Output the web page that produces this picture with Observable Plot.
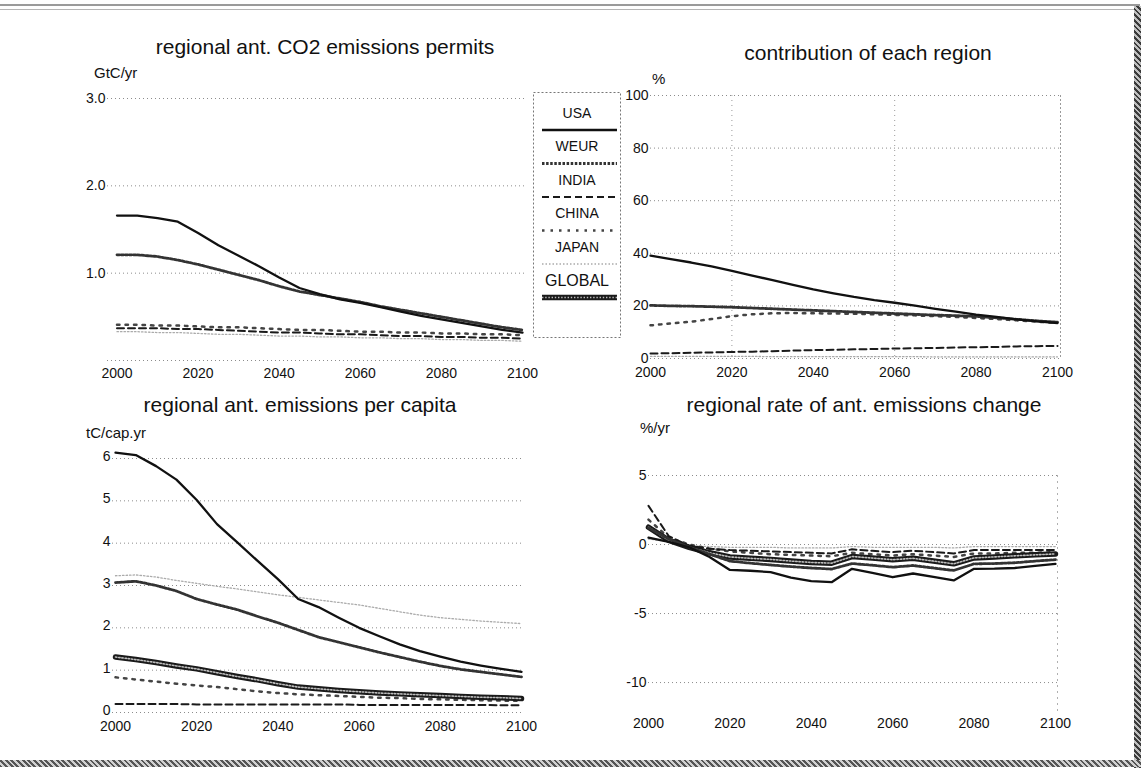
<!DOCTYPE html>
<html><head><meta charset="utf-8">
<script src="https://cdn.jsdelivr.net/npm/d3@7"></script>
<script src="https://cdn.jsdelivr.net/npm/@observablehq/plot@0.6"></script>
<style>
html,body{margin:0;padding:0;background:#fff;}
#page{position:relative;width:1144px;height:775px;overflow:hidden;background:#fff;font-family:"Liberation Sans",Arial,sans-serif;color:#111;}
.abs{position:absolute;}
.title{font-size:21px;white-space:nowrap;transform:translateX(-50%);line-height:1;}
.unit{font-size:15px;white-space:nowrap;line-height:1;}
</style></head><body><div id="page"></div>
<script>
// ---------- data ----------
const years = [2000,2005,2010,2015,2020,2025,2030,2035,2040,2045,2050,2055,2060,2065,2070,2075,2080,2085,2090,2095,2100];
const regions = ["USA","WEUR","INDIA","CHINA","JAPAN","GLOBAL"];

// regional ant. CO2 emissions permits (GtC/yr)
const permitsUSA   = [1.66,1.66,1.63,1.59,1.46,1.32,1.20,1.08,0.95,0.83,0.76,0.70,0.66,0.61,0.56,0.51,0.47,0.43,0.39,0.35,0.32];
const permitsWEUR  = [1.21,1.21,1.19,1.15,1.10,1.04,0.98,0.92,0.85,0.79,0.75,0.71,0.67,0.62,0.58,0.54,0.50,0.46,0.42,0.38,0.35];
const permitsINDIA = [0.37,0.37,0.37,0.36,0.36,0.35,0.34,0.33,0.32,0.32,0.31,0.30,0.30,0.29,0.28,0.28,0.27,0.27,0.26,0.26,0.25];
const permitsCHINA = [0.41,0.41,0.40,0.40,0.39,0.38,0.38,0.37,0.36,0.35,0.35,0.34,0.33,0.33,0.32,0.32,0.31,0.31,0.30,0.30,0.29];
const permitsJAPAN = [0.33,0.33,0.32,0.32,0.31,0.30,0.30,0.29,0.28,0.28,0.27,0.27,0.26,0.26,0.25,0.25,0.24,0.24,0.23,0.23,0.22];

// contribution of each region (%)
const shareUSA   = [39.1,37.8,36.5,35.0,33.3,31.5,29.8,28.0,26.3,24.8,23.4,22.2,21.2,20.1,18.9,17.8,16.7,15.8,14.9,14.1,13.5];
const shareWEUR  = [20.2,20.0,19.9,19.7,19.5,19.2,18.9,18.6,18.3,18.0,17.7,17.4,17.1,16.8,16.5,16.3,16.0,15.5,14.9,14.3,13.8];
const shareINDIA = [1.9,2.0,2.2,2.3,2.5,2.6,2.8,3.0,3.2,3.3,3.5,3.6,3.8,3.9,4.0,4.2,4.3,4.4,4.6,4.7,4.8];
const shareCHINA = [12.6,13.3,14.0,15.0,16.1,16.8,17.2,17.3,17.2,17.1,17.0,16.8,16.6,16.4,16.1,15.8,15.4,15.0,14.5,14.0,13.5];
const shareJAPAN = [0.8,0.8,0.8,0.8,0.8,0.8,0.7,0.7,0.7,0.7,0.7,0.7,0.7,0.7,0.6,0.6,0.6,0.6,0.6,0.6,0.6];

// regional ant. emissions per capita (tC/cap.yr)
const capUSA    = [6.14,6.08,5.82,5.50,5.02,4.45,4.02,3.58,3.15,2.68,2.49,2.24,2.00,1.80,1.61,1.45,1.32,1.20,1.11,1.03,0.96];
const capWEUR   = [3.07,3.10,3.00,2.87,2.68,2.55,2.43,2.27,2.12,1.95,1.78,1.66,1.54,1.42,1.31,1.20,1.10,1.02,0.96,0.90,0.84];
const capINDIA  = [0.20,0.20,0.20,0.20,0.19,0.19,0.19,0.19,0.19,0.19,0.19,0.19,0.18,0.18,0.18,0.18,0.18,0.18,0.18,0.17,0.17];
const capCHINA  = [0.83,0.78,0.73,0.68,0.64,0.60,0.55,0.50,0.46,0.43,0.41,0.39,0.37,0.35,0.34,0.32,0.31,0.30,0.29,0.28,0.28];
const capJAPAN  = [3.23,3.25,3.20,3.12,3.05,2.98,2.92,2.85,2.78,2.72,2.66,2.60,2.54,2.46,2.38,2.30,2.24,2.20,2.16,2.13,2.10];
const capGLOBAL = [1.31,1.25,1.18,1.10,1.03,0.94,0.85,0.77,0.68,0.60,0.56,0.52,0.49,0.46,0.44,0.42,0.40,0.38,0.36,0.35,0.33];

// regional rate of ant. emissions change (%/yr)
const rateUSA    = [0.5,0.2,-0.2,-0.9,-1.84,-1.9,-2.0,-2.4,-2.65,-2.73,-1.76,-2.05,-2.37,-2.1,-2.35,-2.6,-1.76,-1.75,-1.7,-1.55,-1.4];
const rateWEUR   = [1.2,0.4,-0.2,-0.7,-1.2,-1.35,-1.48,-1.6,-1.7,-1.78,-1.38,-1.5,-1.64,-1.52,-1.7,-1.88,-1.4,-1.38,-1.32,-1.2,-1.1];
const rateINDIA  = [2.8,0.6,-0.1,-0.3,-0.4,-0.45,-0.5,-0.55,-0.6,-0.65,-0.35,-0.45,-0.55,-0.45,-0.55,-0.65,-0.4,-0.4,-0.4,-0.4,-0.4];
const rateCHINA  = [1.8,0.5,0.0,-0.3,-0.5,-0.6,-0.7,-0.75,-0.8,-0.85,-0.6,-0.7,-0.8,-0.7,-0.8,-0.9,-0.65,-0.65,-0.6,-0.6,-0.55];
const rateJAPAN  = [0.4,0.2,-0.1,-0.15,-0.2,-0.2,-0.2,-0.25,-0.25,-0.25,-0.15,-0.2,-0.2,-0.2,-0.2,-0.25,-0.15,-0.15,-0.15,-0.15,-0.15];
const rateGLOBAL = [1.25,0.3,-0.2,-0.6,-0.9,-1.0,-1.08,-1.2,-1.3,-1.35,-0.87,-0.98,-1.1,-1.0,-1.2,-1.4,-0.97,-0.9,-0.82,-0.75,-0.68];

// tick labels
const xTicks = [2000,2020,2040,2060,2080,2100];
const permitsTicks = [1,2,3];
const shareTicks = [0,20,40,60,80,100];
const capTicks = [0,1,2,3,4,5,6];
const rateTicks = [-10,-5,0,5];

// ---------- styles ----------
const lineStyle = {
  USA:   {stroke:"#111", strokeWidth:2.3},
  WEUR:  {stroke:"#333", strokeWidth:2.8, strokeDasharray:"2.5,1.6"},
  INDIA: {stroke:"#1a1a1a", strokeWidth:2, strokeDasharray:"7,4"},
  CHINA: {stroke:"#444", strokeWidth:2.5, strokeDasharray:"2.5,6"},
  JAPAN: {stroke:"#ababab", strokeWidth:1.3, strokeDasharray:"1.5,2"},
  GLOBAL:{stroke:"#1a1a1a", strokeWidth:5.5}
};
const drawOrder = ["JAPAN","CHINA","INDIA","GLOBAL","WEUR","USA"];
const font = "Liberation Sans, Arial, sans-serif";

function series(vals){ return years.map((y,i)=>({year:y, value:vals[i]})); }

function lineMarks(data){
  const marks = [];
  for (const r of drawOrder){
    if (!data[r]) continue;
    const s = series(data[r]);
    marks.push(Plot.line(s, {x:"year", y:"value", ...lineStyle[r], strokeLinejoin:"round"}));
    if (r === "GLOBAL") marks.push(Plot.line(s, {x:"year", y:"value", stroke:"#bdbdbd", strokeWidth:1.6, strokeDasharray:"1.4,1.8"}));
  }
  return marks;
}

const page = document.getElementById("page");

function panel(cfg){
  const svg = Plot.plot({
    width: cfg.width, height: cfg.height,
    marginLeft: cfg.ml, marginRight: cfg.mr, marginTop: cfg.mt, marginBottom: cfg.mb,
    style: {fontFamily: font, fontSize: "14px", color:"#111", background:"transparent", overflow:"visible"},
    x: {domain: cfg.xDomain},
    y: {domain: cfg.yDomain},
    marks: [
      Plot.gridY(cfg.grid, {stroke:"#8c8c8c", strokeOpacity:1, strokeWidth:1, strokeDasharray:"1,3"}),
      ...(cfg.extra || []),
      ...lineMarks(cfg.data),
      Plot.axisX(xTicks, {tickSize:0, tickPadding:cfg.xpad, tickFormat:d=>String(d), label:null, fontSize:14}),
      Plot.axisY(cfg.yTicks, {tickSize:0, tickPadding:2, tickFormat:cfg.yFormat, label:null, fontSize:14, dy:cfg.ydy || 0})
    ]
  });
  svg.style.position = "absolute";
  svg.style.left = cfg.left + "px";
  svg.style.top = cfg.top + "px";
  page.appendChild(svg);

  const t = document.createElement("div");
  t.className = "abs title"; t.textContent = cfg.title;
  t.style.left = cfg.titleX + "px"; t.style.top = cfg.titleY + "px";
  page.appendChild(t);
  const u = document.createElement("div");
  u.className = "abs unit"; u.textContent = cfg.unit;
  u.style.left = cfg.unitX + "px"; u.style.top = cfg.unitY + "px";
  page.appendChild(u);
}

// top-left
panel({
  left:0, top:0, width:560, height:390, ml:107, mr:35, mt:98, mb:30,
  xDomain:[1997.66, 2100.74], yDomain:[0,3], grid:[0,1,2,3], yTicks:permitsTicks, yFormat:d=>d.toFixed(1), xpad:8,
  data:{USA:permitsUSA, WEUR:permitsWEUR, INDIA:permitsINDIA, CHINA:permitsCHINA, JAPAN:permitsJAPAN},
  title:"regional ant. CO2 emissions permits", titleX:325, titleY:36,
  unit:"GtC/yr", unitX:94, unitY:65
});
// top-right
panel({
  left:580, top:0, width:564, height:390, ml:70, mr:84, mt:95, mb:32,
  xDomain:[2000, 2100.74], yDomain:[0,100], grid:shareTicks, yTicks:shareTicks, yFormat:d=>String(d), xpad:9,
  data:{USA:shareUSA, WEUR:shareWEUR, INDIA:shareINDIA, CHINA:shareCHINA, JAPAN:shareJAPAN},
  extra:[Plot.ruleX([2020,2060], {stroke:"#9a9a9a", strokeDasharray:"1,4"}), Plot.frame({anchor:"right", stroke:"#9a9a9a", strokeDasharray:"1,3"})],
  title:"contribution of each region", titleX:868, titleY:42,
  unit:"%", unitX:652, unitY:71
});
// bottom-left
panel({
  left:0, top:390, width:560, height:385, ml:112, mr:36, mt:68, mb:63,
  xDomain:[1999.26, 2100.74], yDomain:[0,6], grid:capTicks, yTicks:capTicks, yFormat:d=>String(d), xpad:8.5, ydy:-2,
  data:{USA:capUSA, WEUR:capWEUR, INDIA:capINDIA, CHINA:capCHINA, JAPAN:capJAPAN, GLOBAL:capGLOBAL},
  title:"regional ant. emissions per capita", titleX:300, titleY:394,
  unit:"tC/cap.yr", unitX:86, unitY:425
});
// bottom-right
panel({
  left:580, top:390, width:564, height:385, ml:68, mr:87, mt:85, mb:63,
  xDomain:[2000, 2100.5], yDomain:[-12.17,5], grid:rateTicks, yTicks:rateTicks, yFormat:d=>String(d), xpad:6,
  data:{USA:rateUSA, WEUR:rateWEUR, INDIA:rateINDIA, CHINA:rateCHINA, JAPAN:rateJAPAN, GLOBAL:rateGLOBAL},
  extra:[Plot.frame({anchor:"right", stroke:"#b0b0b0", strokeDasharray:"1,5"})],
  title:"regional rate of ant. emissions change", titleX:864, titleY:394,
  unit:"%/yr", unitX:640, unitY:420
});

// ---------- legend ----------
const leg = d3.create("svg").attr("width",96).attr("height",256)
  .style("position","absolute").style("left","530px").style("top","88px");
leg.append("rect").attr("x",3.5).attr("y",4.5).attr("width",87).attr("height",245)
  .attr("fill","none").attr("stroke","#777").attr("stroke-dasharray","2,2");
regions.forEach((r,i)=>{
  leg.append("text").attr("x",47).attr("y",25 + i*33.5).attr("dy","0.35em")
    .attr("text-anchor","middle").attr("font-family","Liberation Sans Narrow, Liberation Sans, Arial, sans-serif")
    .attr("font-size", r === "GLOBAL" ? 16 : 14).attr("fill","#111").text(r);
  const st = lineStyle[r];
  const ln = leg.append("line").attr("x1",12).attr("x2",87).attr("y1",42 + i*33.5).attr("y2",42 + i*33.5)
    .attr("stroke",st.stroke).attr("stroke-width",st.strokeWidth);
  if (st.strokeDasharray) ln.attr("stroke-dasharray", st.strokeDasharray);
  if (r === "GLOBAL") leg.append("line").attr("x1",12).attr("x2",87).attr("y1",42 + i*33.5).attr("y2",42 + i*33.5)
    .attr("stroke","#bdbdbd").attr("stroke-width",1.6).attr("stroke-dasharray","1.4,1.8");
});
page.appendChild(leg.node());

// ---------- scanned page frame ----------
function band(style){ const d=document.createElement("div"); d.className="abs"; Object.assign(d.style, style); page.appendChild(d); }
band({left:"0px", top:"4px", width:"1140px", height:"2px", background:"#9a9a9a"});
band({left:"0px", top:"9px", width:"1140px", height:"1px", background:"#b5b5b5"});
band({left:"1134px", top:"6px", width:"7px", height:"762px", background:"repeating-linear-gradient(45deg,#3a3a3a 0 2px,#c0c0c0 2px 4px)"});
band({left:"0px", top:"760px", width:"1141px", height:"7px", background:"repeating-linear-gradient(45deg,#555 0 2px,#d0d0d0 2px 4px)"});
</script>
</body></html>
